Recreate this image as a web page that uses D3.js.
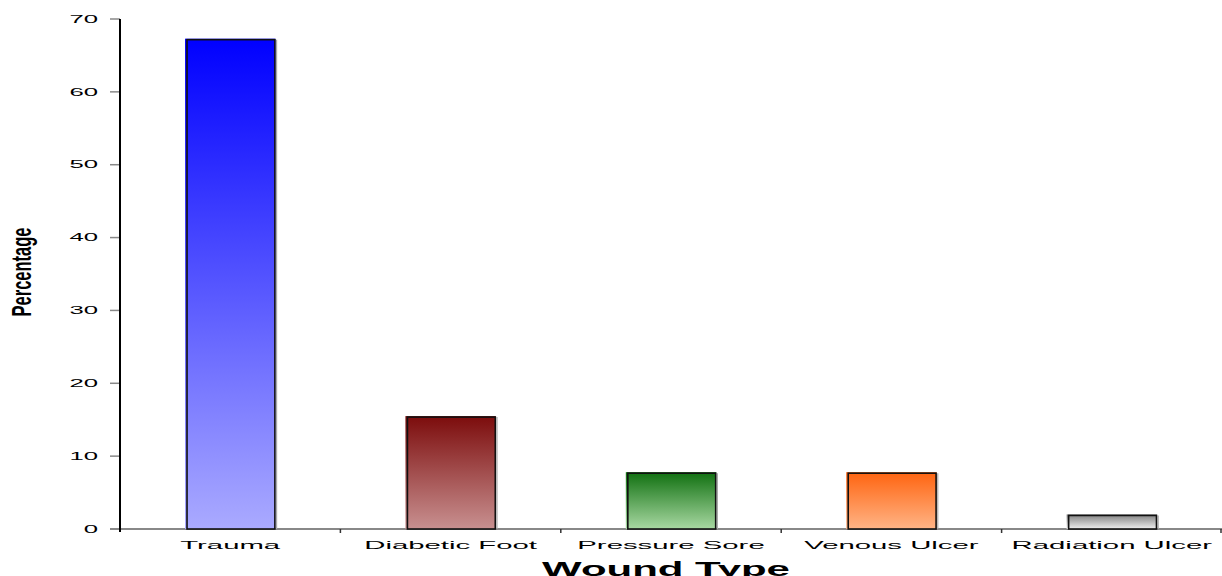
<!DOCTYPE html>
<html>
<head>
<meta charset="utf-8">
<script src="https://cdn.jsdelivr.net/npm/d3@7"></script>
<style>
  html, body { margin: 0; padding: 0; background: #fff; }
  svg { display: block; }
  text { font-family: "Liberation Sans", Arial, sans-serif; fill: #000; }
</style>
</head>
<body>
<svg id="chart" width="1222" height="576"></svg>
<script>
// Wound type distribution (percentage of cases)
const categories = ["Trauma", "Diabetic Foot", "Pressure Sore", "Venous Ulcer", "Radiation Ulcer"];
const percentages = [67.3, 15.5, 7.8, 7.8, 2.0];
const gradientTops = ["#0000ff", "#7c0c0c", "#107010", "#ff6410", "#808080"];
const gradientBottoms = ["#aaaaff", "#c89090", "#a8d8a2", "#ffb486", "#f0f0f0"];
const yTicks = [0, 10, 20, 30, 40, 50, 60, 70];

const svg = d3.select("#chart");
const margin = { left: 120, right: 0, top: 19, bottom: 47 };
const W = 1222, H = 576;
const plotBottom = H - margin.bottom; // 529

const x = d3.scaleBand().domain(categories).range([margin.left, W - margin.right]).padding(0);
const y = d3.scaleLinear().domain([0, 70]).range([plotBottom, margin.top]);

// gradients, one per bar
const defs = svg.append("defs");
categories.forEach((c, i) => {
  const g = defs.append("linearGradient")
    .attr("id", "grad" + i).attr("x1", 0).attr("y1", 0).attr("x2", 0).attr("y2", 1);
  g.append("stop").attr("offset", "0%").attr("stop-color", gradientTops[i]);
  g.append("stop").attr("offset", "100%").attr("stop-color", gradientBottoms[i]);
});

// y axis ticks and labels
const sx = 2.45; // horizontal stretch of the text faces
const yAxisG = svg.append("g");
yAxisG.selectAll("line.tick").data(yTicks).enter().append("line")
  .attr("x1", margin.left - 10).attr("x2", margin.left)
  .attr("y1", d => y(d)).attr("y2", d => y(d))
  .attr("stroke", "#888").attr("stroke-width", 1.5);
yAxisG.selectAll("text").data(yTicks).enter().append("text")
  .attr("transform", d => `translate(98,${y(d)}) scale(${sx},1)`)
  .attr("text-anchor", "end").attr("dy", "0.36em")
  .style("font-size", "10.5px")
  .text(d => d);

// x axis baseline
svg.append("line")
  .attr("x1", margin.left - 10).attr("x2", W)
  .attr("y1", plotBottom).attr("y2", plotBottom)
  .attr("stroke", "#888").attr("stroke-width", 2);

// category separators on the x axis
const seps = categories.slice(1).map(c => x(c)).concat([W - 1]);
svg.selectAll("line.sep").data(seps).enter().append("line")
  .attr("x1", d => d).attr("x2", d => d)
  .attr("y1", plotBottom).attr("y2", plotBottom + 4)
  .attr("stroke", "#333").attr("stroke-width", 1.5);

// bars
const barW = x.bandwidth() * 0.41;
const bars = svg.append("g").selectAll("g").data(categories).enter().append("g");
bars.append("rect")
  .attr("x", (d) => x(d) + (x.bandwidth() - barW) / 2)
  .attr("y", (d, i) => y(percentages[i]))
  .attr("width", barW)
  .attr("height", (d, i) => plotBottom - y(percentages[i]))
  .attr("fill", (d, i) => `url(#grad${i})`);
// soft grey shadow on the right edge
bars.append("line")
  .attr("x1", d => x(d) + (x.bandwidth() + barW) / 2 + 1.2)
  .attr("x2", d => x(d) + (x.bandwidth() + barW) / 2 + 1.2)
  .attr("y1", (d, i) => y(percentages[i]) + 1)
  .attr("y2", plotBottom)
  .attr("stroke", "#aaa").attr("stroke-width", 1.2);
// dark outline, nudged right
bars.append("rect")
  .attr("x", d => x(d) + (x.bandwidth() - barW) / 2 + 2)
  .attr("y", (d, i) => y(percentages[i]) + 1)
  .attr("width", barW - 2.5)
  .attr("height", (d, i) => plotBottom - y(percentages[i]) - 1)
  .attr("fill", "none")
  .attr("stroke", "#111").attr("stroke-width", 1.6);

// y axis line
svg.append("line")
  .attr("x1", margin.left).attr("x2", margin.left)
  .attr("y1", margin.top).attr("y2", plotBottom + 3)
  .attr("stroke", "#000").attr("stroke-width", 2);

// category labels
svg.selectAll("text.cat").data(categories).enter().append("text")
  .attr("class", "cat")
  .attr("transform", d => `translate(${x(d) + x.bandwidth() / 2},549) scale(2.55,1)`)
  .attr("text-anchor", "middle")
  .style("font-size", "11.5px")
  .text(d => d);

// axis titles
svg.append("text")
  .attr("transform", `translate(${(margin.left + W) / 2 - 5},576) scale(2.1,1)`)
  .attr("text-anchor", "middle")
  .style("font-size", "20px").style("font-weight", "bold")
  .text("Wound Type");

svg.append("text")
  .attr("transform", `translate(31,272) scale(1.7,1) rotate(-90)`)
  .attr("text-anchor", "middle")
  .style("font-size", "16.5px").style("font-weight", "bold")
  .text("Percentage");
</script>
</body>
</html>
